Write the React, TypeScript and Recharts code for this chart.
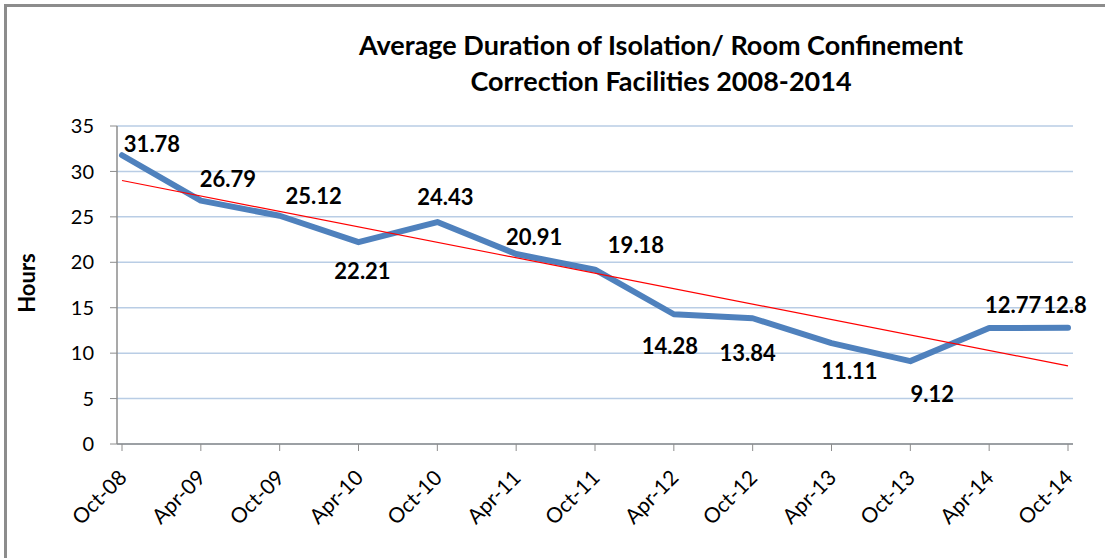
import React from "react"
import { LineChart, Line, XAxis, YAxis, CartesianGrid, ReferenceLine } from "recharts"

// periods on the x axis
const periods = [
  "Oct-08", "Apr-09", "Oct-09", "Apr-10", "Oct-10", "Apr-11", "Oct-11",
  "Apr-12", "Oct-12", "Apr-13", "Oct-13", "Apr-14", "Oct-14",
]

// average hours in isolation / room confinement
const hours = [31.78, 26.79, 25.12, 22.21, 24.43, 20.91, 19.18, 14.28, 13.84, 11.11, 9.12, 12.77, 12.8]

const yTicks = [0, 5, 10, 15, 20, 25, 30, 35]

// linear trend line, read at its two ends
const trendStart = 29.0
const trendEnd = 8.6

// where each data label sits relative to its point (centre offset, px)
const labelOffsets = [
  [30, -12], [27, -22], [34, -20], [4, 28], [8, -26], [18, -18], [41, -25],
  [-4, 31], [-5, 34], [18, 27], [22, 32], [24, -23], [-3, -23],
]

const data = periods.map((p, i) => ({ period: p, hours: hours[i] }))

const FONT = "Lato, 'Open Sans', sans-serif"

const XTick = (props: any) => {
  const { x, y, payload } = props
  // anchor at the end of the slanted label
  const ax = x + 6
  const ay = y + 26
  return (
    <text
      x={ax}
      y={ay}
      transform={`rotate(-45, ${ax}, ${ay})`}
      textAnchor="end"
      fontSize={21}
      fontFamily={FONT}
      fill="#000"
    >
      {payload.value}
    </text>
  )
}

const DataLabel = (props: any) => {
  const { x, y, index, value } = props
  const [dx, dy] = labelOffsets[index] || [0, -20]
  return (
    <text
      x={x + dx}
      y={y + dy}
      textAnchor="middle"
      dominantBaseline="central"
      fontSize={22}
      fontWeight="bold"
      fontFamily={FONT}
      fill="#000"
    >
      {value}
    </text>
  )
}

export default function App() {
  return (
    <div style={{ position: "absolute", left: 0, top: 0, width: 1105, height: 558, background: "#fff", fontFamily: FONT, overflow: "hidden" }}>
      <div
        style={{
          position: "absolute",
          left: 4,
          top: 4,
          width: 1110,
          height: 560,
          borderLeft: "3px solid #8c8c8c",
          borderTop: "3px solid #8c8c8c",
        }}
      />
      <div
        style={{
          position: "absolute",
          left: 261,
          top: 27,
          width: 800,
          textAlign: "center",
          fontSize: 27,
          fontWeight: "bold",
          lineHeight: "36px",
          color: "#000",
        }}
      >
        Average Duration of Isolation/ Room Confinement
        <br />
        Correction Facilities 2008-2014
      </div>
      <div
        style={{
          position: "absolute",
          left: 26,
          top: 283,
          transform: "translate(-50%, -50%) rotate(-90deg)",
          fontSize: 22,
          fontWeight: "bold",
          color: "#000",
        }}
      >
        Hours
      </div>
      <div style={{ position: "absolute", left: 0, top: 0 }}>
        <LineChart width={1105} height={558} data={data} margin={{ top: 126, right: 32, left: 17, bottom: 14 }}>
          <CartesianGrid vertical={false} stroke="#b9cde5" strokeWidth={1.5} />
          <XAxis
            dataKey="period"
            interval={0}
            height={100}
            padding={{ left: 5, right: 5 }}
            tick={<XTick />}
            tickSize={7}
            axisLine={{ stroke: "#8c8c8c", strokeWidth: 1.5 }}
            tickLine={{ stroke: "#8c8c8c" }}
          />
          <YAxis
            width={100}
            domain={[0, 35]}
            ticks={yTicks}
            interval={0}
            tickSize={7}
            tickMargin={16}
            tick={{ fontSize: 20, fill: "#000", fontFamily: FONT }}
            axisLine={{ stroke: "#8c8c8c", strokeWidth: 1.5 }}
            tickLine={{ stroke: "#8c8c8c" }}
          />
          <Line
            type="linear"
            dataKey="hours"
            stroke="#4f81bd"
            strokeWidth={6}
            strokeLinecap="round"
            strokeLinejoin="round"
            dot={false}
            activeDot={false}
            isAnimationActive={false}
            label={<DataLabel />}
          />
          <ReferenceLine
            segment={[
              { x: periods[0], y: trendStart },
              { x: periods[periods.length - 1], y: trendEnd },
            ]}
            stroke="#ff0000"
            strokeWidth={1.2}
            ifOverflow="visible"
          />
        </LineChart>
      </div>
    </div>
  )
}
